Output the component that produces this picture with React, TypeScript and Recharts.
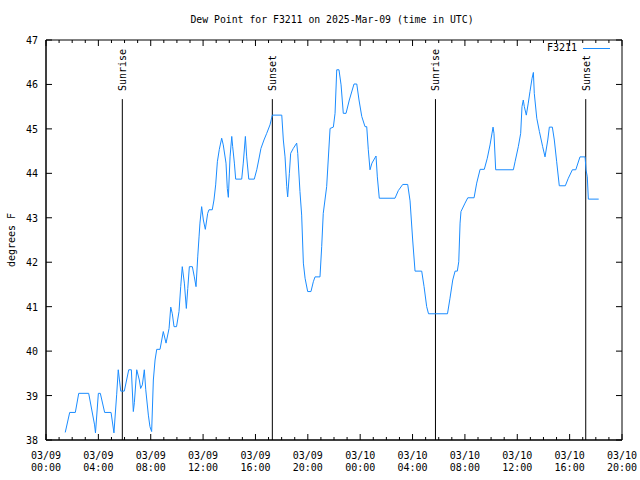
import React from "react";
import { LineChart, Line, XAxis, YAxis, ReferenceLine, ReferenceArea, Legend } from "recharts";

// hours since 2025-03-09 00:00 UTC
const hoursUtc = [
  1.47, 1.81, 2.24, 2.5, 3.26, 3.71, 3.78, 4.0, 4.15, 4.48,
  4.97, 5.19, 5.4, 5.52, 5.71, 5.98, 6.32, 6.52, 6.67, 6.75,
  6.93, 7.13, 7.23, 7.36, 7.51, 7.62, 7.82, 7.94, 8.07, 8.2,
  8.33, 8.46, 8.71, 8.96, 9.17, 9.4, 9.53, 9.65, 9.78, 9.97,
  10.16, 10.29, 10.41, 10.57, 10.72, 10.83, 10.95, 11.18, 11.33, 11.46,
  11.59, 11.69, 11.76, 11.89, 12.02, 12.17, 12.35, 12.45, 12.7, 12.83,
  12.96, 13.09, 13.24, 13.42, 13.54, 13.75, 13.85, 13.93, 14.06, 14.19,
  14.26, 14.39, 14.49, 14.95, 15.07, 15.23, 15.33, 15.49, 15.91, 16.1,
  16.25, 16.42, 16.65, 16.86, 17.11, 17.29, 18.01, 18.13, 18.26, 18.39,
  18.46, 18.59, 18.69, 18.89, 19.15, 19.23, 19.4, 19.53, 19.66, 19.79,
  19.99, 20.24, 20.42, 20.55, 20.93, 21.06, 21.18, 21.44, 21.7, 21.95,
  22.08, 22.21, 22.38, 22.54, 22.71, 22.92, 23.17, 23.53, 23.74, 23.91,
  24.12, 24.37, 24.5, 24.62, 24.75, 24.9, 25.21, 25.31, 25.46, 26.66,
  26.91, 27.25, 27.63, 27.81, 28.01, 28.19, 28.7, 28.88, 29.08, 29.22,
  30.67, 30.86, 31.07, 31.25, 31.42, 31.53, 31.63, 31.7, 32.01, 32.22,
  32.7, 32.9, 33.16, 33.48, 33.71, 33.92, 34.15, 34.22, 34.35, 35.7,
  35.83, 36.08, 36.26, 36.36, 36.46, 36.54, 36.69, 36.84, 36.97, 37.13,
  37.23, 37.3, 37.49, 37.69, 37.94, 38.12, 38.33, 38.45, 38.68, 38.83,
  39.01, 39.21, 39.67, 39.9, 40.21, 40.47, 40.79, 41.18, 41.25, 41.35,
  41.43, 42.22,
];

const dewPointF = [
  38.17, 38.62, 38.62, 39.05, 39.05, 38.34, 38.16, 39.05, 39.05, 38.62,
  38.62, 38.16, 39.03, 39.58, 39.1, 39.1, 39.58, 39.58, 38.64, 38.84,
  39.58, 39.35, 39.16, 39.24, 39.58, 39.13, 38.56, 38.3, 38.19, 39.35,
  39.8, 40.04, 40.04, 40.44, 40.18, 40.51, 40.99, 40.84, 40.55, 40.55,
  40.89, 41.45, 41.9, 41.53, 40.96, 41.41, 41.9, 41.9, 41.67, 41.45,
  42.12, 42.57, 42.88, 43.25, 42.95, 42.74, 43.1, 43.18, 43.18, 43.4,
  43.74, 44.26, 44.54, 44.79, 44.64, 44.23, 43.66, 43.46, 44.37, 44.83,
  44.6, 44.23, 43.87, 43.87, 44.23, 44.83, 44.37, 43.87, 43.87, 44.08,
  44.3, 44.56, 44.75, 44.9, 45.09, 45.31, 45.31, 44.75, 44.37, 43.7,
  43.47, 44.0, 44.45, 44.56, 44.68, 44.45, 43.59, 43.06, 41.98, 41.64,
  41.34, 41.34, 41.56, 41.67, 41.67, 42.35, 43.1, 43.7, 45.01, 45.04,
  45.35, 46.33, 46.33, 45.99, 45.35, 45.35, 45.65, 46.01, 46.01, 45.65,
  45.28, 45.05, 45.05, 44.53, 44.08, 44.23, 44.39, 43.92, 43.44, 43.44,
  43.61, 43.75, 43.75, 43.38, 42.5, 41.8, 41.8, 41.45, 41.0, 40.84,
  40.84, 41.19, 41.6, 41.8, 41.8, 42.01, 42.88, 43.14, 43.33, 43.45,
  43.45, 43.78, 44.09, 44.09, 44.34, 44.64, 45.04, 44.9, 44.08, 44.08,
  44.26, 44.6, 44.9, 45.5, 45.65, 45.5, 45.31, 45.58, 45.84, 46.14,
  46.27, 45.8, 45.24, 44.94, 44.6, 44.37, 44.75, 45.04, 45.04, 44.75,
  44.26, 43.72, 43.72, 43.89, 44.08, 44.08, 44.37, 44.37, 44.08, 43.92,
  43.42, 43.42,
];

const sunLabels = ["Sunrise", "Sunset", "Sunrise", "Sunset"];
const sunHours = [5.83, 17.29, 29.75, 41.23];
const SUN_LINE_TOP = 45.67;

const majorTickDates = ["03/09", "03/09", "03/09", "03/09", "03/09", "03/09", "03/10", "03/10", "03/10", "03/10", "03/10", "03/10"];
const majorTickTimes = ["00:00", "04:00", "08:00", "12:00", "16:00", "20:00", "00:00", "04:00", "08:00", "12:00", "16:00", "20:00"];
const yTicks = [38, 39, 40, 41, 42, 43, 44, 45, 46, 47];

const hourTicks = Array.from({ length: 45 }, (_, i) => i);
const data = hoursUtc.map((h, i) => ({ h, v: dewPointF[i] }));

// plot frame (pixels) for the mirrored tick marks on top and right
const PLOT_TOP = 40;
const PLOT_RIGHT = 622;

const FONT = "'DejaVu Sans Mono', 'Liberation Mono', monospace";
const LINE_COLOR = "#1a8cff";

function BottomTick(props: any) {
  const { x, y, payload } = props;
  const h = payload.value;
  const major = h % 4 === 0;
  const len = major ? 6 : 3;
  const idx = h / 4;
  return (
    <g>
      <line x1={x} y1={y} x2={x} y2={y - len} stroke="#000" />
      <line x1={x} y1={PLOT_TOP} x2={x} y2={PLOT_TOP + len} stroke="#000" />
      {major && (
        <text x={x} y={y} textAnchor="middle" fontSize={10} fontFamily={FONT} fill="#000">
          <tspan x={x} y={y + 19}>{majorTickDates[idx]}</tspan>
          <tspan x={x} y={y + 31}>{majorTickTimes[idx]}</tspan>
        </text>
      )}
    </g>
  );
}

function LeftTick(props: any) {
  const { x, y, payload } = props;
  return (
    <g>
      <line x1={x} y1={y} x2={x + 6} y2={y} stroke="#000" />
      <line x1={PLOT_RIGHT} y1={y} x2={PLOT_RIGHT - 6} y2={y} stroke="#000" />
      <text x={x - 8} y={y + 4} textAnchor="end" fontSize={10} fontFamily={FONT} fill="#000">
        {payload.value}
      </text>
    </g>
  );
}

function SunLabel(props: any) {
  const { viewBox, text } = props;
  if (!viewBox) return null;
  const x = viewBox.x + 4;
  const y = viewBox.y - 8;
  return (
    <text
      x={x}
      y={y}
      transform={`rotate(-90, ${x}, ${y})`}
      textAnchor="start"
      fontSize={10}
      fontFamily={FONT}
      fill="#000"
    >
      {text}
    </text>
  );
}

function LegendBox() {
  return (
    <div style={{ display: "flex", alignItems: "center", justifyContent: "flex-end", fontFamily: FONT, fontSize: 10, lineHeight: "12px", color: "#000" }}>
      <span style={{ marginRight: 6 }}>F3211</span>
      <svg width={27} height={12}>
        <line x1={0} y1={6.5} x2={27} y2={6.5} stroke={LINE_COLOR} />
      </svg>
    </div>
  );
}

export default function App() {
  return (
    <div style={{ position: "absolute", left: 0, top: 0, width: 640, height: 480, background: "#fff" }}>
      <LineChart width={640} height={480} data={data} margin={{ top: 40, right: 18, bottom: 0, left: 0 }}>
        <XAxis
          dataKey="h"
          type="number"
          domain={[0, 44]}
          ticks={hourTicks}
          interval={0}
          height={40}
          tickLine={false}
          tickSize={0}
          tickMargin={0}
          tick={<BottomTick />}
          axisLine={{ stroke: "#000" }}
        />
        <YAxis
          type="number"
          domain={[38, 47]}
          ticks={yTicks}
          interval={0}
          width={46}
          tickLine={false}
          tickSize={0}
          tickMargin={0}
          tick={<LeftTick />}
          axisLine={{ stroke: "#000" }}
        />
        <ReferenceArea x1={0} x2={44} y1={38} y2={47} fill="none" stroke="#000" strokeWidth={1} />
        {sunHours.map((t, i) => (
          <ReferenceLine
            key={i}
            segment={[{ x: t, y: 38 }, { x: t, y: SUN_LINE_TOP }]}
            stroke="#000"
            strokeWidth={1}
            label={<SunLabel text={sunLabels[i]} />}
          />
        ))}
        <Legend
          layout="vertical"
          align="center"
          verticalAlign="middle"
          content={<LegendBox />}
          wrapperStyle={{ left: 498, top: 42, width: 112, height: 12 }}
        />
        <Line
          type="linear"
          dataKey="v"
          name="F3211"
          stroke={LINE_COLOR}
          strokeWidth={1}
          dot={false}
          activeDot={false}
          isAnimationActive={false}
        />
      </LineChart>
      <svg width={640} height={480} style={{ position: "absolute", left: 0, top: 0, pointerEvents: "none" }}>
        <text x={332} y={23} textAnchor="middle" fontSize={9.8} fontFamily={FONT} fill="#000">
          Dew Point for F3211 on 2025-Mar-09 (time in UTC)
        </text>
        <text x={15} y={240} transform="rotate(-90, 15, 240)" textAnchor="middle" fontSize={10} fontFamily={FONT} fill="#000">
          degrees F
        </text>
      </svg>
    </div>
  );
}
